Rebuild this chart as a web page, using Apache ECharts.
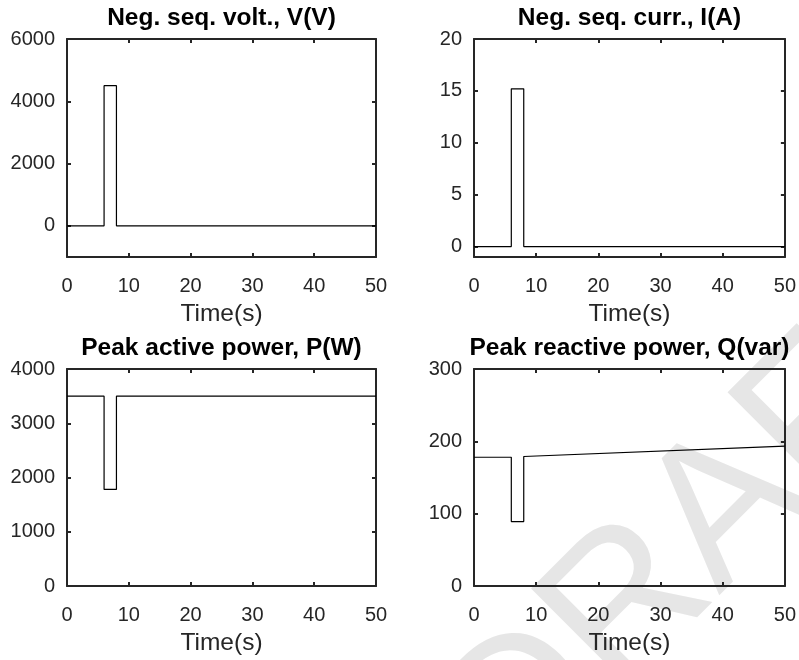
<!DOCTYPE html>
<html>
<head>
<meta charset="utf-8">
<title>Negative sequence and peak power response</title>
<script src="https://cdn.jsdelivr.net/npm/echarts@6/dist/echarts.min.js"></script>
<style>
  html, body { margin: 0; padding: 0; background: #ffffff; }
  #chart { width: 799px; height: 660px; }
</style>
</head>
<body>
<div id="chart"></div>
<script>
// Step-shaped time base shared by all four traces (fault between 6 s and 8 s)
const timeSteps = [0, 6, 6, 8, 8, 50];

// Measured quantities at each time step
const negSeqVoltage = [0, 0, 4500, 4500, 0, 0];               // V
const negSeqCurrent = [0, 0, 15.2, 15.2, 0, 0];               // A
const peakActivePower = [3500, 3500, 1780, 1780, 3500, 3500]; // W
const peakReactivePower = [178, 178, 89, 89, 179, 193.5];     // var

// Tick values
const timeTicks = [0, 10, 20, 30, 40, 50];
const voltTicks = [0, 2000, 4000, 6000];
const currTicks = [0, 5, 10, 15, 20];
const activeTicks = [0, 1000, 2000, 3000, 4000];
const reactiveTicks = [0, 100, 200, 300];

// Panel titles
const panelTitles = [
  'Neg. seq. volt., V(V)',
  'Neg. seq. curr., I(A)',
  'Peak active power, P(W)',
  'Peak reactive power, Q(var)'
];
const timeAxisName = 'Time(s)';

const INK = '#262626';
const FONT = '"Liberation Sans", Arial, sans-serif';
const plain = v => String(v);

// Panel layout in pixels
const panels = [
  { left: 67,  top: 39,  width: 309, height: 218, yMin: -1000, yMax: 6000, yTicks: voltTicks,     values: negSeqVoltage },
  { left: 474, top: 39,  width: 311, height: 218, yMin: -1,    yMax: 20,   yTicks: currTicks,     values: negSeqCurrent },
  { left: 67,  top: 369, width: 309, height: 217, yMin: 0,     yMax: 4000, yTicks: activeTicks,   values: peakActivePower },
  { left: 474, top: 369, width: 311, height: 217, yMin: 0,     yMax: 300,  yTicks: reactiveTicks, values: peakReactivePower }
];

const grid = [], xAxis = [], yAxis = [], series = [], title = [];

panels.forEach((p, i) => {
  grid.push({ left: p.left, top: p.top, width: p.width, height: p.height, show: false });

  const axisLine = { show: true, onZero: false, lineStyle: { color: INK, width: 2 } };
  const axisTickX = { show: true, inside: true, length: 4, customValues: timeTicks, lineStyle: { color: INK, width: 2 } };
  const axisTickY = { show: true, inside: true, length: 4, customValues: p.yTicks, lineStyle: { color: INK, width: 2 } };

  // bottom (labelled) and top (ticks only) time axes
  xAxis.push({
    type: 'value', gridIndex: i, position: 'bottom', min: 0, max: 50,
    axisLine, axisTick: axisTickX, splitLine: { show: false },
    axisLabel: { customValues: timeTicks, formatter: plain, color: INK, fontSize: 20, fontFamily: FONT, margin: 19 },
    name: timeAxisName, nameLocation: 'middle', nameGap: 45,
    nameTextStyle: { color: INK, fontSize: 24.5, fontFamily: FONT }
  });
  xAxis.push({
    type: 'value', gridIndex: i, position: 'top', min: 0, max: 50,
    axisLine, axisTick: axisTickX, splitLine: { show: false },
    axisLabel: { show: false }
  });

  // left (labelled) and right (ticks only) value axes
  yAxis.push({
    type: 'value', gridIndex: i, position: 'left', min: p.yMin, max: p.yMax,
    axisLine, axisTick: axisTickY, splitLine: { show: false },
    axisLabel: { customValues: p.yTicks, formatter: plain, color: INK, fontSize: 20, fontFamily: FONT, margin: 12 }
  });
  yAxis.push({
    type: 'value', gridIndex: i, position: 'right', min: p.yMin, max: p.yMax,
    axisLine, axisTick: axisTickY, splitLine: { show: false },
    axisLabel: { show: false }
  });

  series.push({
    type: 'line', xAxisIndex: 2 * i, yAxisIndex: 2 * i,
    data: timeSteps.map((t, k) => [t, p.values[k]]),
    showSymbol: false, symbol: 'none',
    lineStyle: { color: '#000000', width: 1.2 },
    silent: true
  });

  title.push({
    text: panelTitles[i],
    left: p.left + p.width / 2, textAlign: 'center',
    top: p.top - 33, padding: 0,
    textStyle: { color: '#000000', fontSize: 24.5, fontWeight: 'bold', fontFamily: FONT }
  });
});

const chart = echarts.init(document.getElementById('chart'), null, { renderer: 'canvas' });
chart.setOption({
  animation: false,
  backgroundColor: '#ffffff',
  title, grid, xAxis, yAxis, series,
  // faint diagonal watermark behind the plots
  graphic: [{
    type: 'text',
    z: -10,
    silent: true,
    x: 405, y: 690,
    rotation: Math.PI / 4,
    style: {
      text: 'DRAFT',
      fill: '#e6e6e6',
      font: '200px "Liberation Sans", Arial, sans-serif',
      textAlign: 'left',
      textVerticalAlign: 'top'
    }
  }]
});
</script>
</body>
</html>
